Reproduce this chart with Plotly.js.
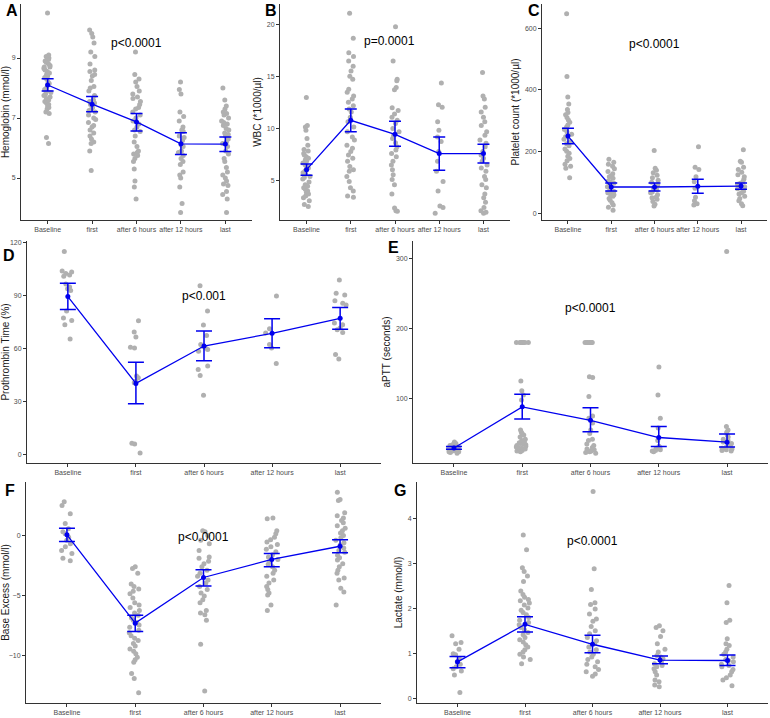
<!DOCTYPE html>
<html>
<head>
<meta charset="utf-8">
<script src="https://cdn.plot.ly/plotly-3.0.1.min.js"></script>
<style>
  html, body { margin: 0; padding: 0; background: #ffffff; }
  #chart { width: 770px; height: 718px; }
</style>
</head>
<body>
<div id="chart"></div>
<script>
// ---------------- DATA ----------------
const categories = ['Baseline', 'first', 'after 6 hours', 'after 12 hours', 'last'];

// A: Hemoglobin (mmol/l)
const hbPoints = [
  [10.5, 9.1, 9.05, 9.0, 9.0, 8.95, 8.9, 8.85, 8.8, 8.75, 8.7, 8.7, 8.65, 8.6, 8.55, 8.5, 8.45, 8.4, 8.35, 8.3, 8.2, 8.15, 8.1, 8.0, 7.95, 7.9, 7.85, 7.8, 7.75, 7.7, 7.65, 7.6, 7.55, 7.5, 7.45, 7.4, 7.35, 7.3, 7.2, 7.15, 6.35, 6.15],
  [9.93, 9.82, 9.7, 9.5, 9.2, 9.05, 8.8, 8.6, 8.55, 8.45, 8.4, 8.25, 8.05, 8.0, 7.9, 7.75, 7.6, 7.55, 7.5, 7.45, 7.35, 7.3, 7.25, 7.2, 7.1, 7.0, 6.95, 6.85, 6.75, 6.7, 6.6, 6.5, 6.4, 6.3, 6.2, 6.15, 5.9, 5.25],
  [9.2, 8.45, 8.3, 8.2, 8.05, 7.9, 7.8, 7.7, 7.65, 7.55, 7.45, 7.35, 7.3, 7.2, 7.1, 7.0, 6.9, 6.8, 6.7, 6.6, 6.55, 6.4, 6.2, 6.05, 5.9, 5.85, 5.8, 5.75, 5.65, 5.55, 5.3, 4.9, 4.7, 4.3],
  [8.2, 7.95, 7.8, 7.2, 7.05, 6.9, 6.7, 6.6, 6.55, 6.4, 6.35, 6.25, 6.1, 6.05, 5.9, 5.85, 5.75, 5.65, 5.55, 5.45, 5.2, 5.1, 5.0, 4.7, 4.15, 3.85],
  [8.0, 7.6, 7.4, 7.3, 7.2, 7.15, 7.1, 7.0, 6.9, 6.85, 6.8, 6.75, 6.65, 6.6, 6.5, 6.45, 6.4, 6.3, 6.2, 6.15, 6.05, 5.9, 5.8, 5.65, 5.55, 5.35, 5.2, 5.1, 5.0, 4.9, 4.8, 4.75, 4.55, 4.45, 4.3, 3.85]
];
const hbMean = [8.10, 7.46, 6.87, 6.14, 6.13];
const hbLow  = [7.90, 7.21, 6.57, 5.78, 5.88];
const hbHigh = [8.31, 7.72, 7.15, 6.51, 6.37];

// B: WBC (*1000/µl)
const wbcPoints = [
  [13.0, 10.3, 10.15, 9.85, 9.05, 8.4, 8.0, 7.85, 7.6, 7.45, 7.3, 7.15, 7.0, 6.85, 6.7, 6.5, 6.35, 6.2, 6.1, 5.95, 5.75, 5.6, 5.4, 5.3, 5.15, 4.85, 4.6, 4.45, 4.3, 4.15, 4.0, 3.85, 3.7, 3.5, 3.35, 3.05, 2.7, 2.5],
  [21.1, 18.7, 17.3, 16.95, 16.5, 16.0, 15.55, 15.05, 14.75, 13.8, 13.5, 13.15, 12.85, 12.55, 12.2, 11.9, 11.6, 11.1, 10.65, 10.15, 9.7, 9.2, 8.9, 8.4, 8.1, 7.8, 7.45, 7.15, 6.85, 6.35, 6.05, 5.9, 5.4, 4.9, 4.3, 4.0, 3.5, 3.4],
  [19.8, 16.5, 14.75, 14.6, 13.95, 13.75, 12.0, 11.75, 11.4, 11.1, 10.8, 10.5, 10.0, 9.7, 9.35, 9.05, 8.65, 8.25, 7.95, 7.6, 7.3, 6.85, 6.5, 6.05, 5.55, 5.1, 4.6, 3.7, 2.35, 2.1, 2.05],
  [14.4, 12.3, 12.05, 10.65, 9.85, 9.2, 8.75, 7.8, 6.85, 5.9, 4.9, 4.0, 2.55, 2.4, 1.85],
  [15.4, 13.15, 12.85, 12.05, 11.6, 11.1, 10.65, 10.3, 9.7, 9.35, 8.9, 8.6, 8.25, 7.8, 7.45, 7.15, 6.85, 6.5, 6.2, 5.9, 5.4, 5.1, 4.6, 4.3, 3.7, 3.35, 2.9, 2.4, 2.1, 1.95, 1.85]
];
const wbcMean = [6.05, 10.8, 9.45, 7.6, 7.6];
const wbcLow  = [5.5, 9.7, 8.3, 6.0, 6.7];
const wbcHigh = [6.6, 11.9, 10.7, 9.2, 8.5];

// C: Platelet count (*1000/µl)
const pltPoints = [
  [646, 443, 377, 354, 336, 326, 319, 310, 302, 295, 286, 279, 271, 264, 256, 248, 240, 232, 225, 219, 208, 201, 194, 185, 177, 170, 159, 152, 146, 115],
  [175, 165, 159, 152, 144, 135, 128, 121, 118, 113, 104, 102, 97, 90, 86, 81, 73, 71, 66, 60, 58, 55, 48, 42, 34, 27, 19, 10],
  [203, 146, 139, 131, 123, 115, 107, 100, 92, 83, 81, 76, 69, 66, 60, 52, 50, 45, 38, 29, 23],
  [215, 149, 142, 118, 102, 81, 52, 40, 31, 27],
  [206, 168, 165, 149, 142, 133, 125, 118, 110, 102, 97, 94, 86, 83, 79, 71, 66, 62, 55, 48, 40, 31, 24]
];
const pltMean = [250, 85, 85, 87, 88];
const pltLow  = [225, 72, 72, 65, 78];
const pltHigh = [275, 98, 98, 110, 98];

// D: Prothrombin Time (%)
const ptPoints = [
  [115, 104, 103.5, 102.6, 101.7, 101, 96.6, 95, 94, 93, 81.4, 77.3, 76, 73.5, 65.5],
  [75.8, 69.4, 66.6, 60.8, 60.4, 44.5, 43.5, 41.7, 40.7, 6.4, 6.0, 0.9],
  [95.7, 81.4, 73.4, 67.4, 62.3, 61.4, 60.4, 59.5, 58.5, 50.1, 48.2, 44.8, 33.6],
  [89.9, 71.3, 68.9, 62.3, 60.4, 51.6],
  [98.9, 91.4, 90.4, 87.1, 85.7, 84.8, 74.5, 73.5, 71.7, 70.7, 69.2, 56.7, 54.2]
];
const ptMean = [89.5, 40.3, 61.5, 68.7, 77.2];
const ptLow  = [82.2, 28.8, 53.2, 60.5, 71.0];
const ptHigh = [97.0, 52.3, 70.0, 76.9, 83.3];

// E: aPTT (seconds)
const apttPoints = [
  [38, 36, 35, 34, 33, 32, 31, 30, 29, 29, 28, 28, 27, 27, 26, 26, 25, 25, 24, 24, 23, 22],
  [180, 180, 180, 180, 180, 180, 180, 180, 125, 111, 105, 98, 55, 52, 50, 48, 45, 42, 40, 38, 37, 36, 35, 34, 33, 32, 31, 30, 29, 28, 27, 26, 25, 24],
  [180, 180, 180, 180, 180, 180, 180, 131, 130, 103, 75, 72, 65, 55, 50, 42, 40, 35, 33, 30, 28, 27, 26, 25, 24, 23, 22],
  [145, 105, 72, 58, 40, 32, 30, 29, 28, 27, 26, 25, 24],
  [310, 60, 55, 52, 48, 45, 42, 40, 38, 36, 34, 32, 30, 29, 28, 27, 26, 25]
];
const apttMean = [29.5, 88.2, 69.0, 44.4, 37.8];
const apttLow  = [27.5, 71.0, 52.5, 31.7, 30.7];
const apttHigh = [31.5, 106.0, 87.0, 60.0, 49.5];

// F: Base Excess (mmol/l)
const bePoints = [
  [2.8, 2.5, 1.8, 1.0, 0.55, 0.3, 0.15, -0.15, -0.4, -0.7, -0.95, -1.25, -1.5, -1.9, -2.1],
  [-2.6, -2.75, -3.15, -4.05, -4.25, -4.45, -4.65, -4.85, -5.2, -5.6, -5.8, -6.0, -6.25, -6.45, -6.65, -6.85, -7.05, -7.25, -7.45, -7.65, -7.9, -8.1, -8.35, -8.55, -8.75, -9.0, -9.2, -9.45, -9.65, -9.85, -10.15, -10.35, -10.55, -11.5, -11.9, -13.1],
  [0.4, 0.3, 0.0, -0.4, -0.7, -1.25, -1.8, -1.9, -2.15, -2.35, -2.6, -2.9, -3.15, -3.4, -3.7, -3.95, -4.25, -4.5, -4.8, -5.05, -5.35, -5.6, -6.25, -6.45, -6.6, -7.05, -9.05, -12.95],
  [1.45, 1.4, 0.4, 0.15, -0.15, -0.35, -0.55, -0.75, -0.95, -1.15, -1.35, -1.6, -1.8, -2.0, -2.2, -2.4, -2.6, -2.9, -3.15, -3.4, -3.7, -3.95, -4.25, -4.5, -4.8, -4.95, -5.8, -6.25],
  [3.6, 3.0, 2.9, 1.9, 1.65, 1.45, 1.25, 1.05, 0.8, 0.6, 0.4, 0.2, 0.0, -0.2, -0.4, -0.6, -0.8, -1.05, -1.25, -1.4, -1.65, -1.85, -2.05, -2.35, -2.6, -2.9, -3.15, -3.55, -3.7, -4.4, -4.7, -5.8]
];
const beMean = [0.05, -7.3, -3.5, -2.0, -0.9];
const beLow  = [-0.5, -8.0, -4.2, -2.6, -1.45];
const beHigh = [0.6, -6.65, -2.85, -1.5, -0.35];

// G: Lactate (mmol/l)
const lacPoints = [
  [1.4, 1.25, 1.22, 1.1, 1.0, 0.98, 0.89, 0.82, 0.77, 0.71, 0.67, 0.62, 0.53, 0.14],
  [3.63, 3.3, 2.9, 2.82, 2.72, 2.6, 2.39, 2.31, 2.25, 2.2, 2.17, 2.12, 2.08, 2.01, 1.96, 1.91, 1.86, 1.8, 1.74, 1.69, 1.64, 1.58, 1.53, 1.47, 1.42, 1.36, 1.31, 1.26, 1.2, 1.15, 1.09, 1.04, 0.99, 0.93, 0.87, 0.78],
  [4.59, 2.88, 2.42, 2.13, 2.09, 1.99, 1.88, 1.77, 1.72, 1.6, 1.51, 1.44, 1.36, 1.29, 1.22, 1.15, 1.09, 1.04, 0.99, 0.93, 0.87, 0.82, 0.77, 0.71, 0.65, 0.6, 0.55, 0.5],
  [1.62, 1.58, 1.51, 1.38, 1.22, 1.1, 1.04, 0.96, 0.93, 0.89, 0.82, 0.78, 0.74, 0.71, 0.67, 0.6, 0.53, 0.42, 0.38, 0.31, 0.27],
  [2.51, 2.13, 1.74, 1.69, 1.33, 1.22, 1.18, 1.1, 1.04, 0.99, 0.93, 0.87, 0.85, 0.82, 0.77, 0.74, 0.71, 0.65, 0.6, 0.53, 0.47, 0.42, 0.29]
];
const lacMean = [0.82, 1.65, 1.21, 0.86, 0.85];
const lacLow  = [0.69, 1.48, 1.02, 0.78, 0.74];
const lacHigh = [0.94, 1.82, 1.41, 0.95, 0.97];

const panelLetters = ['A', 'B', 'C', 'D', 'E', 'F', 'G'];
const yTitles = ['Hemoglobin (mmol/l)', 'WBC (*1000/µl)', 'Platelet count (*1000/µl)', 'Prothrombin Time (%)', 'aPTT (seconds)', 'Base Excess (mmol/l)', 'Lactate (mmol/l)'];
const pTexts = ['p<0.0001', 'p=0.0001', 'p<0.0001', 'p<0.001', 'p<0.0001', 'p<0.0001', 'p<0.0001'];
const pY = [9.5, 18.4, 550, 89.9, 229, -0.1, 3.5];

// ---------------- LAYOUT HELPERS ----------------
const W = 770, H = 718;
const fx = p => p / W;
const fy = p => 1 - p / H;

const panels = [
  {pts: hbPoints,   mean: hbMean,   lo: hbLow,   hi: hbHigh,   xd: [21, 252],  yd: [4, 220],   range: [3.6, 10.8],   dtick: 2,   tick0: 1, cap: 6, letter: [4, 10],   px: 2},
  {pts: wbcPoints,  mean: wbcMean,  lo: wbcLow,  hi: wbcHigh,  xd: [280, 510], yd: [4, 220],   range: [1.2, 22],     dtick: 5,   tick0: 0, cap: 6, letter: [263, 10], px: 1.87},
  {pts: pltPoints,  mean: pltMean,  lo: pltLow,  hi: pltHigh,  xd: [542, 767], yd: [4, 220],   range: [-22, 678],    dtick: 200, tick0: 0, cap: 6, letter: [526, 10], px: 2},
  {pts: ptPoints,   mean: ptMean,   lo: ptLow,   hi: ptHigh,   xd: [27, 381],  yd: [241, 463], range: [-4.8, 121],   dtick: 30,  tick0: 0, cap: 8, letter: [1, 256],  px: 2},
  {pts: apttPoints, mean: apttMean, lo: apttLow, hi: apttHigh, xd: [413, 768], yd: [241, 463], range: [8, 325],      dtick: 100, tick0: 0, cap: 8, letter: [386, 247], px: 2},
  {pts: bePoints,   mean: beMean,   lo: beLow,   hi: beHigh,   xd: [26, 381],  yd: [482, 703], range: [-13.95, 4.45], dtick: 5,  tick0: 0, cap: 8, letter: [3, 490],  px: 2},
  {pts: lacPoints,  mean: lacMean,  lo: lacLow,  hi: lacHigh,  xd: [417, 768], yd: [482, 703], range: [-0.09, 4.8],  dtick: 1,   tick0: 0, cap: 8, letter: [392, 490], px: 2}
];

const FONT = 'Liberation Sans, Arial, Helvetica, sans-serif';
const AXIS_COLOR = '#333333';
const POINT_COLOR = '#b0b0b0';
const MEAN_COLOR = '#0000ee';
const TICK_COLOR = '#4d4d4d';

const traces = [];
const layout = {
  width: W, height: H,
  margin: {l: 0, r: 0, t: 0, b: 0, pad: 0},
  paper_bgcolor: '#ffffff',
  plot_bgcolor: '#ffffff',
  showlegend: false,
  font: {family: FONT, color: '#000000'},
  annotations: []
};

panels.forEach((p, i) => {
  const n = i + 1;
  const xa = 'x' + (n === 1 ? '' : n);
  const ya = 'y' + (n === 1 ? '' : n);
  const xs = [], ys = [];
  p.pts.forEach((arr, ci) => arr.forEach(v => { xs.push(categories[ci]); ys.push(v); }));

  traces.push({
    type: 'box', x: xs, y: ys, xaxis: xa, yaxis: ya,
    boxpoints: 'all', jitter: 0.6, pointpos: 0, width: 0.32,
    fillcolor: 'rgba(0,0,0,0)', line: {color: 'rgba(0,0,0,0)', width: 0},
    whiskerwidth: 0,
    marker: {color: POINT_COLOR, size: 5, line: {width: 0}},
    hoverinfo: 'y', showlegend: false
  });

  traces.push({
    type: 'scatter', mode: 'lines+markers', x: categories, y: p.mean,
    xaxis: xa, yaxis: ya,
    line: {color: MEAN_COLOR, width: 1.3},
    marker: {color: MEAN_COLOR, size: 5},
    error_y: {
      type: 'data', symmetric: false,
      array: p.hi.map((h, k) => h - p.mean[k]),
      arrayminus: p.mean.map((m, k) => m - p.lo[k]),
      color: MEAN_COLOR, thickness: 1.5, width: p.cap
    },
    showlegend: false
  });

  const axKeyX = 'xaxis' + (n === 1 ? '' : n);
  const axKeyY = 'yaxis' + (n === 1 ? '' : n);
  layout[axKeyX] = {
    domain: [fx(p.xd[0]), fx(p.xd[1])], anchor: ya,
    type: 'category', categoryorder: 'array', categoryarray: categories,
    range: [-0.6, 4.6], tickangle: 0,
    showline: true, linecolor: AXIS_COLOR, linewidth: 1,
    ticks: 'outside', ticklen: 3, tickcolor: AXIS_COLOR, tickwidth: 1,
    tickfont: {family: FONT, size: 7, color: TICK_COLOR},
    showgrid: false, zeroline: false, automargin: false, fixedrange: true
  };
  layout[axKeyY] = {
    domain: [fy(p.yd[1]), fy(p.yd[0])], anchor: xa,
    range: p.range, tick0: p.tick0, dtick: p.dtick, tickangle: 0,
    showline: true, linecolor: AXIS_COLOR, linewidth: 1,
    ticks: 'outside', ticklen: 3, tickcolor: AXIS_COLOR, tickwidth: 1,
    tickfont: {family: FONT, size: 7, color: TICK_COLOR},
    showgrid: false, zeroline: false, automargin: false, fixedrange: true,
    title: {text: yTitles[i], font: {family: FONT, size: 10, color: '#1a1a1a'}, standoff: 3}
  };

  layout.annotations.push({
    xref: xa, yref: ya, x: p.px, y: pY[i], text: pTexts[i],
    showarrow: false, xanchor: 'center', yanchor: 'middle',
    font: {family: FONT, size: 12, color: '#000000'}
  });
  layout.annotations.push({
    xref: 'paper', yref: 'paper', x: fx(p.letter[0]), y: fy(p.letter[1]),
    text: '<b>' + panelLetters[i] + '</b>', showarrow: false,
    xanchor: 'left', yanchor: 'middle',
    font: {family: FONT, size: 16, color: '#000000'}
  });
});

Plotly.newPlot('chart', traces, layout, {staticPlot: true, displayModeBar: false});
</script>
</body>
</html>
